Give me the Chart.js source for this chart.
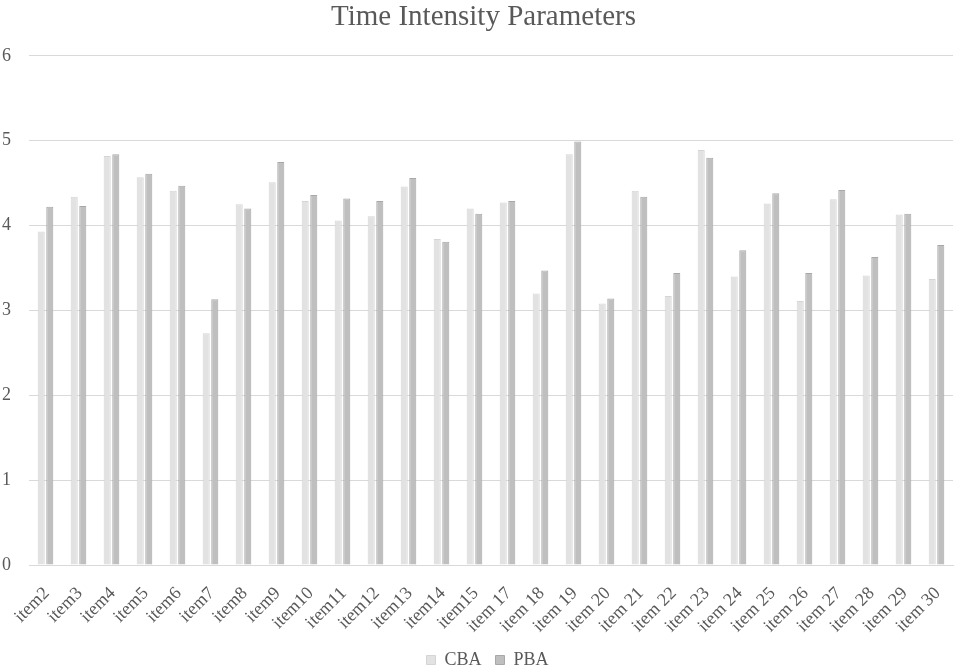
<!DOCTYPE html>
<html>
<head>
<meta charset="utf-8">
<script src="https://cdn.jsdelivr.net/npm/chart.js@4/dist/chart.umd.min.js"></script>
<style>
  html, body { margin: 0; padding: 0; background: #fff; }
  #wrap { width: 957px; height: 670px; position: relative; }
</style>
</head>
<body>
<div id="wrap"><canvas id="chart"></canvas></div>
<script>
// data
const categories = ["item2", "item3", "item4", "item5", "item6", "item7", "item8", "item9", "item10",
  "item11", "item12", "item13", "item14", "item15", "item 17", "item 18", "item 19", "item 20",
  "item 21", "item 22", "item 23", "item 24", "item 25", "item 26", "item 27", "item 28", "item 29", "item 30"];
const cbaValues = [3.93, 4.34, 4.82, 4.57, 4.41, 2.73, 4.25, 4.51, 4.29,
  4.06, 4.11, 4.46, 3.84, 4.20, 4.27, 3.20, 4.84, 3.08,
  4.41, 3.17, 4.89, 3.40, 4.26, 3.11, 4.31, 3.41, 4.13, 3.37];
const pbaValues = [4.22, 4.23, 4.84, 4.61, 4.47, 3.13, 4.20, 4.75, 4.36,
  4.32, 4.29, 4.56, 3.81, 4.14, 4.29, 3.47, 4.99, 3.14,
  4.34, 3.44, 4.80, 3.71, 4.38, 3.44, 4.42, 3.63, 4.14, 3.77];
const yTicks = [0, 1, 2, 3, 4, 5, 6];

const textColor = '#595959';
const serif = "'Liberation Serif', 'Times New Roman', serif";

// x labels at 45 degrees, drawn at the x scale's tick positions
const slantedLabels = {
  id: 'slantedLabels',
  afterLayout(chart) {
    // title and legend sit a little right of centre in the original
    chart.titleBlock.left += 6;
    chart.titleBlock.right += 6;
    chart.legend.left += 10;
    chart.legend.right += 10;
  },
  afterDraw(chart) {
    const x = chart.scales.x;
    const ctx = chart.ctx;
    ctx.save();
    ctx.fillStyle = textColor;
    ctx.font = '18px ' + serif;
    ctx.textAlign = 'right';
    ctx.textBaseline = 'alphabetic';
    chart.data.labels.forEach((label, i) => {
      const px = x.getPixelForTick(i);
      ctx.save();
      ctx.translate(px + 4.5, x.top + 29);
      ctx.rotate(-Math.PI / 4);
      ctx.fillText(label, 0, 0);
      ctx.restore();
    });
    ctx.restore();
  }
};

new Chart(document.getElementById('chart'), {
  type: 'bar',
  data: {
    labels: categories,
    datasets: [
      { label: 'CBA', data: cbaValues, backgroundColor: '#e2e2e2', borderColor: '#d5d5d5', borderWidth: 1,
        categoryPercentage: 0.52, barPercentage: 0.82 },
      { label: 'PBA', data: pbaValues, backgroundColor: '#bfbfbf', borderColor: '#a8a8a8', borderWidth: 1,
        categoryPercentage: 0.52, barPercentage: 0.82 }
    ]
  },
  plugins: [slantedLabels],
  options: {
    responsive: true,
    maintainAspectRatio: false,
    animation: false,
    layout: { padding: { left: 2, right: 4, top: 0, bottom: -9 } },
    plugins: {
      title: {
        display: true,
        text: 'Time Intensity Parameters',
        color: textColor,
        font: { family: serif, size: 29, weight: 'normal' },
        padding: { top: 0, bottom: 21 }
      },
      legend: {
        position: 'bottom',
        labels: {
          color: textColor,
          font: { family: serif, size: 18 },
          boxWidth: 9,
          boxHeight: 9,
          padding: 14
        }
      },
      tooltip: { enabled: false }
    },
    scales: {
      x: {
        grid: { display: false },
        border: { color: '#d9d9d9', width: 1 },
        ticks: { display: false },
        afterFit: scale => { scale.height = 72; }
      },
      y: {
        min: 0,
        max: 6,
        afterBuildTicks: axis => { axis.ticks = yTicks.map(v => ({ value: v })); },
        afterFit: scale => { scale.width = 27; },
        grid: { color: '#d9d9d9', lineWidth: 1, drawTicks: false },
        border: { display: false },
        ticks: {
          color: textColor,
          font: { family: serif, size: 18 },
          padding: 18
        }
      }
    }
  }
});
</script>
</body>
</html>
